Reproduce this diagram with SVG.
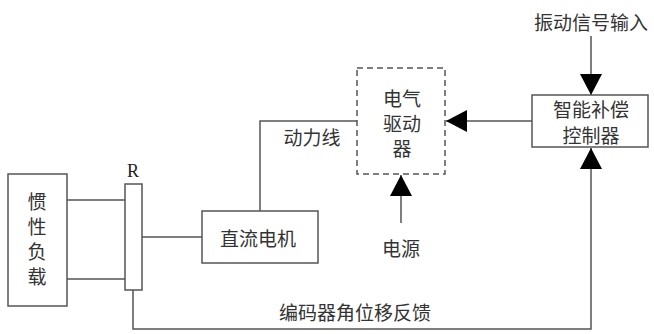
<svg xmlns="http://www.w3.org/2000/svg" width="654" height="334" viewBox="0 0 654 334">
<style>
.box{fill:#fff;stroke:#555;stroke-width:1.5}
.dash{fill:#fff;stroke:#555;stroke-width:1.5;stroke-dasharray:6,4}
.ln{fill:none;stroke:#555;stroke-width:1.5}
.t{font-family:"Noto Sans CJK SC","Noto Sans",sans-serif;font-size:19px;fill:#333;text-anchor:middle;dominant-baseline:central}
.r{font-family:"Liberation Serif",serif;font-size:18px;fill:#222;text-anchor:middle;dominant-baseline:central}
</style>
<defs>
<marker id="ah" markerUnits="userSpaceOnUse" markerWidth="21" markerHeight="22" viewBox="0 0 21 22" refX="21" refY="11" orient="auto">
<path d="M0,0 L21,11 L0,22 Z" fill="#000"/>
</marker>
</defs>
<g id="connectors">
<line class="ln" x1="67" y1="200" x2="125" y2="200"/>
<line class="ln" x1="67" y1="279" x2="125" y2="279"/>
<line class="ln" x1="142" y1="237" x2="202" y2="237"/>
<polyline class="ln" points="260,211 260,121 357,121"/>
<text class="t" x="312" y="136">动力线</text>
<line class="ln" x1="401" y1="223" x2="401" y2="175" marker-end="url(#ah)"/>
<line class="ln" x1="591" y1="36" x2="591" y2="95" marker-end="url(#ah)"/>
<line class="ln" x1="532" y1="121" x2="446" y2="121" marker-end="url(#ah)"/>
<polyline class="ln" points="133,290 133,329 591,329 591,148" marker-end="url(#ah)"/>
<text class="t" x="355" y="311">编码器角位移反馈</text>
</g>
<g id="load">
<rect class="box" x="8" y="174" width="59" height="132"/>
<text class="t" x="37" y="200">惯</text>
<text class="t" x="37" y="225">性</text>
<text class="t" x="37" y="250">负</text>
<text class="t" x="37" y="275">载</text>
</g>
<g id="encoder">
<text class="r" x="133" y="171">R</text>
<rect class="box" x="125" y="184" width="17" height="106"/>
</g>
<g id="motor">
<rect class="box" x="202" y="211" width="116" height="52"/>
<text class="t" x="258" y="237">直流电机</text>
</g>
<g id="driver">
<rect class="dash" x="357" y="68" width="88" height="106"/>
<text class="t" x="402" y="97">电气</text>
<text class="t" x="402" y="122">驱动</text>
<text class="t" x="402" y="147">器</text>
</g>
<g id="power">
<text class="t" x="401" y="247">电源</text>
</g>
<g id="input">
<text class="t" x="591" y="21">振动信号输入</text>
</g>
<g id="controller">
<rect class="box" x="532" y="95" width="116" height="52"/>
<text class="t" x="591" y="108">智能补偿</text>
<text class="t" x="591" y="134">控制器</text>
</g>
</svg>
